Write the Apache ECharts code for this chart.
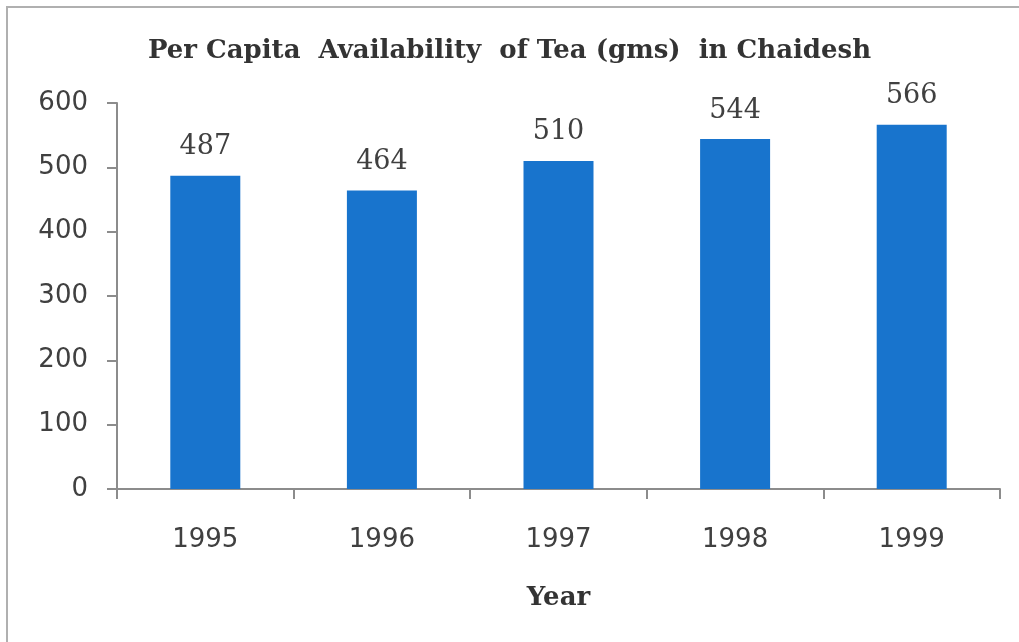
<!DOCTYPE html>
<html>
<head>
<meta charset="utf-8">
<script src="https://cdn.jsdelivr.net/npm/echarts@6/dist/echarts.min.js"></script>
<style>
  html, body { margin: 0; padding: 0; background: #fff; }
  #chart { width: 1019px; height: 642px; }
</style>
</head>
<body>
<div id="chart"></div>
<script>
const years = ["1995", "1996", "1997", "1998", "1999"];
const teaValues = [487, 464, 510, 544, 566];
const titleText = "Per Capita  Availability  of Tea (gms)  in Chaidesh";

const chart = echarts.init(document.getElementById("chart"));
const axisGray = "#8c8c8c";
const textGray = "#404040";

chart.setOption({
  animation: false,
  backgroundColor: "#fff",
  title: {
    text: titleText,
    left: "center",
    top: 33,
    textStyle: {
      fontFamily: "DejaVu Serif",
      fontWeight: "bold",
      fontSize: 26,
      color: "#333"
    }
  },
  graphic: [
    {
      type: "rect",
      shape: { x: 7, y: 7, width: 1030, height: 660 },
      style: { fill: "none", stroke: "#b0b0b0", lineWidth: 2 },
      silent: true
    }
  ],
  grid: { left: 117, right: 19, top: 103, bottom: 153 },
  xAxis: {
    type: "category",
    data: years,
    name: "Year",
    nameLocation: "middle",
    nameGap: 96,
    nameTextStyle: {
      fontFamily: "DejaVu Serif",
      fontWeight: "bold",
      fontSize: 26,
      color: "#333"
    },
    axisLine: { lineStyle: { color: axisGray, width: 2 } },
    axisTick: { show: true, length: 10, lineStyle: { color: axisGray, width: 2 } },
    axisLabel: {
      margin: 38,
      fontFamily: "DejaVu Sans",
      fontSize: 26,
      color: textGray
    }
  },
  yAxis: {
    type: "value",
    min: 0,
    max: 600,
    interval: 100,
    splitLine: { show: false },
    axisLine: { show: true, lineStyle: { color: axisGray, width: 2 } },
    axisTick: { show: true, length: 10, lineStyle: { color: axisGray, width: 2 } },
    axisLabel: {
      margin: 29,
      fontFamily: "DejaVu Sans",
      fontSize: 26,
      color: textGray
    }
  },
  series: [
    {
      type: "bar",
      data: teaValues,
      barWidth: 70,
      itemStyle: { color: "#1874cd" },
      label: {
        show: true,
        position: "top",
        distance: 15,
        fontFamily: "DejaVu Serif",
        fontSize: 27,
        color: textGray
      }
    }
  ]
});
</script>
</body>
</html>
